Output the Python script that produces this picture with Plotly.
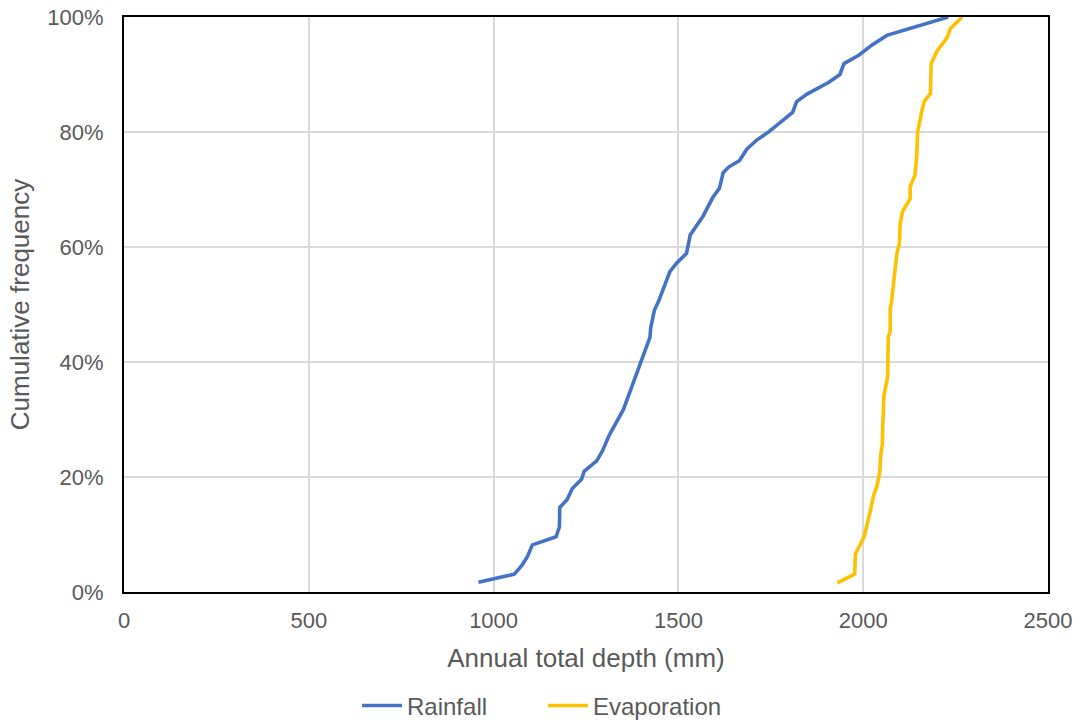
import plotly.graph_objects as go

# Rainfall cumulative curve (annual total depth in mm, cumulative frequency in %)
rain_depth = [959, 1056, 1076, 1091, 1105, 1169, 1178, 1179, 1199, 1213, 1238, 1245,
              1279, 1295, 1313, 1351, 1374, 1387, 1396, 1423, 1425, 1435, 1446, 1477,
              1495, 1522, 1532, 1550, 1567, 1593, 1611, 1621, 1636, 1665, 1685, 1712,
              1746, 1809, 1820, 1848, 1906, 1937, 1948, 1989, 2023, 2064, 2230]
rain_freq = [1.7, 3.1, 4.6, 6.1, 8.2, 9.6, 11.3, 14.7, 16.1, 18.0, 19.6, 21.0,
             22.8, 24.6, 27.3, 31.7, 35.7, 38.0, 39.8, 44.3, 45.9, 49.0, 50.5, 55.7,
             57.2, 58.9, 62.1, 63.7, 65.4, 68.6, 70.2, 72.9, 73.9, 75.0, 77.0, 78.6,
             80.1, 83.4, 85.3, 86.6, 88.6, 90.0, 91.9, 93.4, 95.1, 96.8, 100.0]

# Evaporation cumulative curve
evap_depth = [1930, 1977, 1979, 2002, 2018, 2027, 2037, 2045, 2047, 2052, 2053, 2056,
              2066, 2068, 2073, 2073, 2077, 2086, 2091, 2098, 2100, 2106, 2127, 2127,
              2140, 2145, 2147, 2158, 2165, 2182, 2184, 2200, 2227, 2236, 2268]
evap_freq = [1.6, 3.1, 6.6, 9.5, 13.7, 16.5, 18.4, 20.9, 23.5, 25.9, 29.0, 34.1,
             37.4, 44.4, 45.3, 49.2, 50.6, 55.1, 58.8, 60.6, 64.0, 66.1, 68.4, 70.5,
             72.5, 76.0, 79.8, 83.5, 85.3, 86.7, 91.9, 94.1, 96.4, 98.0, 100.0]

x_ticks = [0, 500, 1000, 1500, 2000, 2500]
y_ticks = [0, 20, 40, 60, 80, 100]

FONT = "Liberation Sans, Arial, sans-serif"
TXT = "#595959"

fig = go.Figure()
fig.add_trace(go.Scatter(x=rain_depth, y=rain_freq, mode="lines", name="Rainfall",
                         line=dict(color="#4472C4", width=3.6)))
fig.add_trace(go.Scatter(x=evap_depth, y=evap_freq, mode="lines", name="Evaporation",
                         line=dict(color="#FFC000", width=3.6)))

fig.update_layout(
    width=1086, height=724,
    margin=dict(l=124, r=38, t=17, b=132, autoexpand=False),
    paper_bgcolor="white", plot_bgcolor="white",
    font=dict(family=FONT, color=TXT, size=22),
    showlegend=True,
    legend=dict(orientation="h", xref="container", yref="container",
                x=0.5, xanchor="center", y=0.025, yanchor="middle",
                font=dict(size=24, color=TXT), itemwidth=40,
                entrywidth=131, entrywidthmode="pixels"),
    xaxis=dict(range=[0, 2500], tickvals=x_ticks, ticktext=[str(v) for v in x_ticks],
               showgrid=True, gridcolor="#d9d9d9", gridwidth=1.5,
               showline=True, linecolor="black", linewidth=2, mirror=True,
               zeroline=False, ticks="", ticklabelstandoff=8, automargin=False,
               tickfont=dict(size=22, color=TXT),
               title=dict(text="Annual total depth (mm)", font=dict(size=26, color=TXT), standoff=16)),
    yaxis=dict(range=[0, 100], tickvals=y_ticks, ticktext=[f"{v}%" for v in y_ticks],
               showgrid=True, gridcolor="#d9d9d9", gridwidth=1.5,
               showline=True, linecolor="black", linewidth=2, mirror=True,
               zeroline=False, ticks="", ticklabelstandoff=14, automargin=False,
               tickfont=dict(size=22, color=TXT),
               title=dict(text="Cumulative frequency", font=dict(size=26, color=TXT), standoff=10)),
)

fig.write_html("out.html")
